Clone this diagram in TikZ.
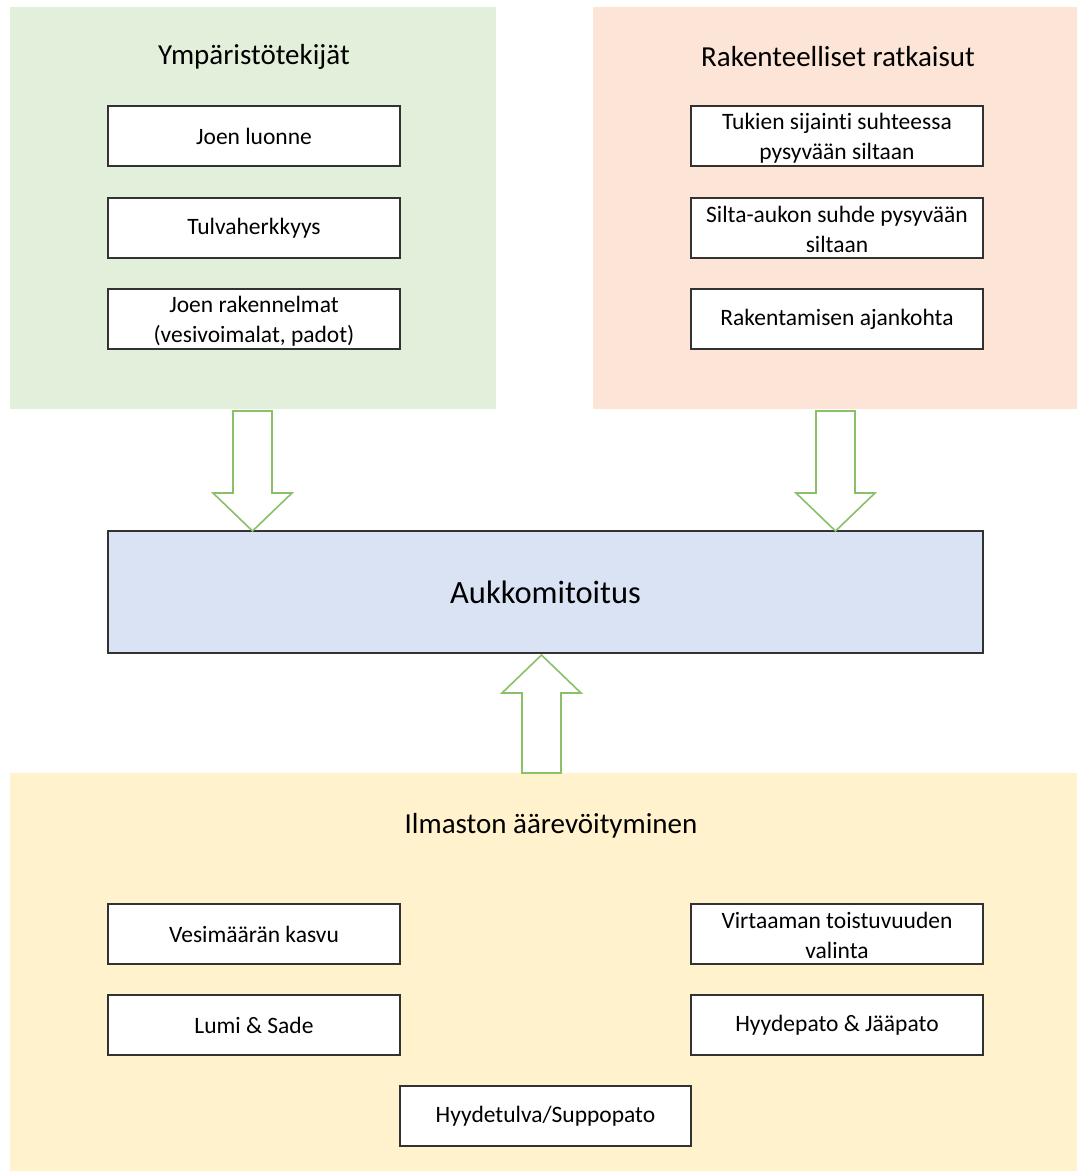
\documentclass[tikz,border=0pt]{standalone}
\usepackage{fontspec}
\setmainfont{Carlito}[Ligatures=NoCommon]
\definecolor{pgreen}{HTML}{E2EFDA}
\definecolor{porange}{HTML}{FCE4D6}
\definecolor{pyellow}{HTML}{FFF2CC}
\definecolor{pblue}{HTML}{DAE3F3}
\definecolor{agreen}{RGB}{137,192,104}
\definecolor{edge}{RGB}{50,50,50}
\tikzset{
  itembox/.style={draw=edge,line width=1.4pt,fill=white,minimum width=292pt,minimum height=60pt,
    inner sep=0pt,align=center,font=\fontsize{23.5}{30}\selectfont},
  itemtext/.style={inner sep=0pt,align=center,font=\fontsize{23.5}{30}\selectfont},
  paneltitle/.style={font=\fontsize{29}{34}\selectfont,inner sep=0pt},
  blockarrow/.style={draw=agreen,line width=1.6pt,fill=white,line join=miter},
}
\begin{document}
\begin{tikzpicture}[x=1pt,y=-1pt]
\useasboundingbox (0,0) rectangle (1077,1171);
% panels
\fill[pgreen] (10,7) rectangle (496,409);
\fill[porange] (593,7) rectangle (1077,409);
\fill[pyellow] (10,773) rectangle (1077,1171);
% titles
\node[paneltitle] (t1) at (254,57) {Ympäristötekijät};
\node[paneltitle] (t2) at (838,57) {Rakenteelliset ratkaisut};
\node[paneltitle] (t3) at (551,826) {Ilmaston äärevöityminen};
% left items
\node[itembox] (l1) at (254,136) {Joen luonne};
\node[itembox] (l2) at (254,228) {Tulvaherkkyys};
\node[itembox] (l3) at (254,319) {};
\node[itemtext] (l3t) at ([yshift=-2.5pt]l3.center) {Joen rakennelmat\\(vesivoimalat, padot)};
% right items
\node[itembox] (r1) at (837,136) {};
\node[itemtext] (r1t) at ([yshift=-2.5pt]r1.center) {Tukien sijainti suhteessa\\pysyvään siltaan};
\node[itembox] (r2) at (837,228) {};
\node[itemtext] (r2t) at ([yshift=-1pt]r2.center) {Silta-aukon suhde pysyvään\\siltaan};
\node[itembox] (r3) at (837,319) {Rakentamisen ajankohta};
% bottom items
\node[itembox] (b1) at (254,934) {Vesimäärän kasvu};
\node[itembox] (b2) at (254,1025) {Lumi \& Sade};
\node[itembox] (b3) at (837,934) {};
\node[itemtext] (b3t) at ([yshift=-1pt]b3.center) {Virtaaman toistuvuuden\\valinta};
\node[itembox] (b4) at (837,1025) {Hyydepato \& Jääpato};
\node[itembox,minimum width=291pt] (b5) at (545.5,1116) {Hyydetulva/Suppopato};
% main box
\node[draw=edge,line width=1.6pt,fill=pblue,minimum width=875pt,minimum height=122pt,inner sep=0pt,
  font=\fontsize{32.5}{38}\selectfont] (main) at (545.5,592) {Aukkomitoitus};
% block arrows
\draw[blockarrow] (233,411) -- (272,411) -- (272,493) -- (292,493) -- (252.5,531) -- (213,493) -- (233,493) -- cycle;
\draw[blockarrow] (816,411) -- (855,411) -- (855,493) -- (875,493) -- (835.5,531) -- (796,493) -- (816,493) -- cycle;
\draw[blockarrow] (522,773) -- (561,773) -- (561,693) -- (581,693) -- (541.5,655) -- (502,693) -- (522,693) -- cycle;
\end{tikzpicture}
\end{document}
